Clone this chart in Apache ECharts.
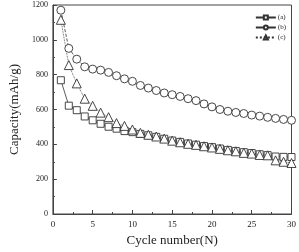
<!DOCTYPE html>
<html>
<head>
<meta charset="utf-8">
<script src="https://cdn.jsdelivr.net/npm/echarts@6/dist/echarts.min.js"></script>
<style>html,body{margin:0;padding:0;background:#fff;}#c{width:299px;height:252px;}</style>
</head>
<body>
<div id="c"></div>
<script>
var cycles = [1,2,3,4,5,6,7,8,9,10,11,12,13,14,15,16,17,18,19,20,21,22,23,24,25,26,27,28,29,30];
var seriesA = [768,622,596,560,538,518,501,490,476,470,460,452,443,432,422,414,405,398,390,384,376,368,362,355,350,343,338,330,328,327];
var seriesB = [1170,951,889,845,832,826,813,794,776,762,738,723,709,695,685,675,662,651,632,615,600,590,583,577,568,562,555,549,543,538];
var seriesC = [1115,855,750,662,621,582,556,522,506,485,466,455,445,433,421,412,403,397,389,382,374,366,360,351,347,339,337,308,300,293];
var seriesNames = ['(a)','(b)','(c)'];
var xTicks = [0,5,10,15,20,25,30];
var yTicks = [0,200,400,600,800,1000,1200];

function pairs(vals){ return cycles.map(function(c,i){ return [c, vals[i]]; }); }

var font = '"Liberation Serif", "DejaVu Serif", serif';
var chart = echarts.init(document.getElementById('c'), null, {renderer:'canvas'});
function mk(name, vals, symbol, type, size){
  return {
    name: name, type: 'line', data: pairs(vals),
    symbol: symbol, symbolSize: size, showAllSymbol: true,
    lineStyle: {color:'#333', width: 0.8, type: type},
    itemStyle: {color: '#fff', borderColor: '#333', borderWidth: 0.9},
    emphasis: {disabled: true}, animation: false
  };
}
chart.setOption({
  animation: false,
  grid: {left: 41, right: 6, top: 5, bottom: 35, show: true, borderColor: '#444', borderWidth: 1},
  legend: {
    right: 8, top: 9, orient: 'vertical', itemGap: 3, itemWidth: 20, itemHeight: 5,
    textStyle: {fontFamily: font, fontSize: 7, color: '#222', padding: [0,0,0,-3]},
    data: seriesNames
  },
  xAxis: {
    type: 'value', min: xTicks[0], max: xTicks[xTicks.length-1], interval: 5,
    name: 'Cycle number(N)', nameLocation: 'middle', nameGap: 20,
    nameTextStyle: {fontFamily: font, fontSize: 13, color: '#222'},
    axisLine: {lineStyle: {color: '#444'}},
    axisTick: {inside: true, length: 4, lineStyle: {color: '#444'}},
    minorTick: {show: true, splitNumber: 2, length: 2, lineStyle: {color: '#444'}},
    axisLabel: {fontFamily: font, fontSize: 9, color: '#222', margin: 6, formatter: function(v){ return String(v); }},
    splitLine: {show: false}
  },
  yAxis: {
    type: 'value', min: yTicks[0], max: yTicks[yTicks.length-1], interval: 200,
    name: 'Capacity(mAh/g)', nameLocation: 'middle', nameGap: 24, nameRotate: 90,
    nameTextStyle: {fontFamily: font, fontSize: 13, color: '#222'},
    axisLine: {show: true, lineStyle: {color: '#444'}},
    axisTick: {show: true, inside: true, length: 4, lineStyle: {color: '#444'}},
    minorTick: {show: true, splitNumber: 2, length: 2, lineStyle: {color: '#444'}},
    axisLabel: {fontFamily: font, fontSize: 8, color: '#222', margin: 5, formatter: function(v){ return String(v); }},
    splitLine: {show: false}
  },
  series: [
    mk(seriesNames[0], seriesA, 'rect', 'solid', 7),
    mk(seriesNames[1], seriesB, 'circle', 'dashed', 8),
    mk(seriesNames[2], seriesC, 'triangle', 'dotted', 9)
  ]
});
</script>
</body>
</html>
